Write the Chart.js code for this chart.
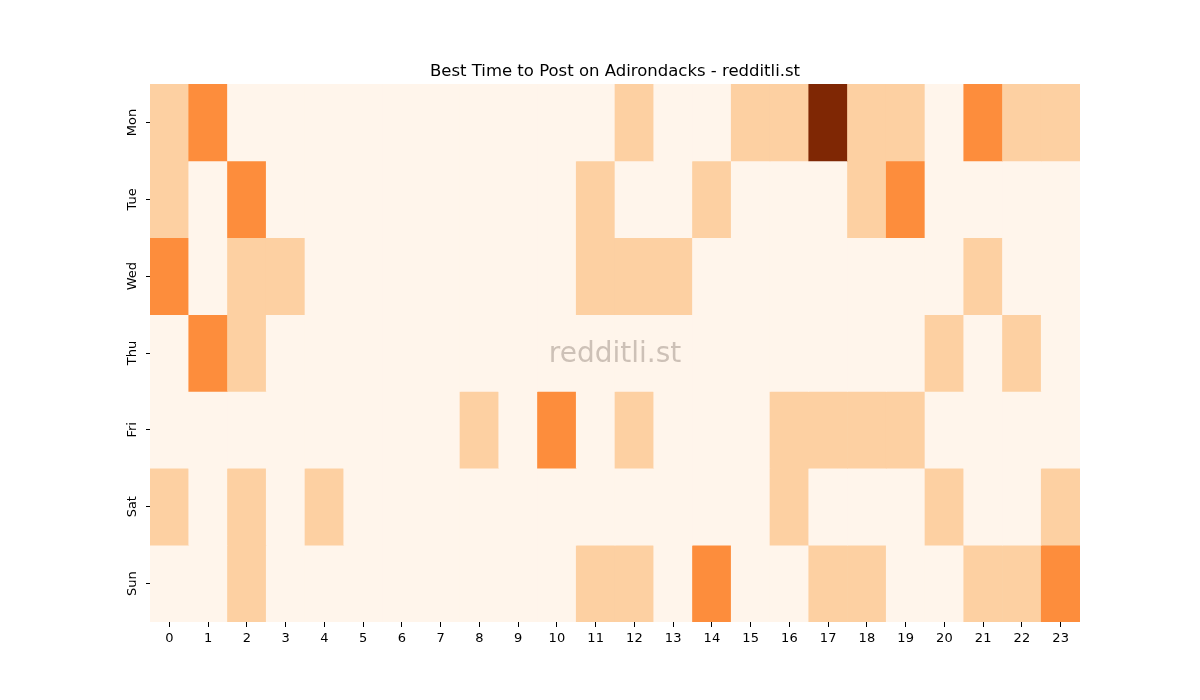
<!DOCTYPE html>
<html>
<head>
<meta charset="utf-8">
<script src="https://cdn.jsdelivr.net/npm/chart.js@4/dist/chart.umd.min.js"></script>
<style>
  body { margin: 0; background: #fff; }
</style>
</head>
<body>
<canvas id="heat" width="1200" height="700"></canvas>
<script>
// hours along x, weekdays down y
const hours = ["0","1","2","3","4","5","6","7","8","9","10","11","12","13","14","15","16","17","18","19","20","21","22","23"];
const days = ["Mon", "Tue", "Wed", "Thu", "Fri", "Sat", "Sun"];

// post counts per hour for each day
const mon = [1,2,0,0,0,0,0,0,0,0,0,0,1,0,0,1,1,4,1,1,0,2,1,1];
const tue = [1,0,2,0,0,0,0,0,0,0,0,1,0,0,1,0,0,0,1,2,0,0,0,0];
const wed = [2,0,1,1,0,0,0,0,0,0,0,1,1,1,0,0,0,0,0,0,0,1,0,0];
const thu = [0,2,1,0,0,0,0,0,0,0,0,0,0,0,0,0,0,0,0,0,1,0,1,0];
const fri = [0,0,0,0,0,0,0,0,1,0,2,0,1,0,0,0,1,1,1,1,0,0,0,0];
const sat = [1,0,1,0,1,0,0,0,0,0,0,0,0,0,0,0,1,0,0,0,1,0,0,1];
const sun = [0,0,1,0,0,0,0,0,0,0,0,1,1,0,2,0,0,1,1,0,0,1,1,2];

const rows = [mon, tue, wed, thu, fri, sat, sun];

// matplotlib "Oranges" colormap stops
const oranges = ["#fff5eb","#fee6ce","#fdd0a2","#fdae6b","#fd8d3c","#f16913","#d94801","#a63603","#7f2704"];

function hexToRgb(h) {
  return [parseInt(h.slice(1,3),16), parseInt(h.slice(3,5),16), parseInt(h.slice(5,7),16)];
}

function cmap(t) {
  t = Math.max(0, Math.min(1, t));
  const pos = t * (oranges.length - 1);
  const i = Math.min(Math.floor(pos), oranges.length - 2);
  const f = pos - i;
  const a = hexToRgb(oranges[i]), b = hexToRgb(oranges[i + 1]);
  const c = a.map((v, k) => Math.round(v + (b[k] - v) * f));
  return "rgb(" + c.join(",") + ")";
}

const maxVal = Math.max(...rows.flat());

// each day is one stacked dataset of unit-height bars, coloured by count
const datasets = rows.map((r, i) => ({
  label: days[i],
  data: r.map(() => 1),
  backgroundColor: r.map(v => cmap(v / maxVal)),
  borderWidth: 0,
  barPercentage: 1,
  categoryPercentage: 1,
  stack: "grid"
}));

const tickFont = { family: "DejaVu Sans", size: 13 };

// title, rotated day labels and watermark
const extras = {
  id: "extras",
  afterDraw(chart) {
    const ctx = chart.ctx;
    const area = chart.chartArea;
    const y = chart.scales.y;
    const cx = (area.left + area.right) / 2;

    ctx.save();
    ctx.fillStyle = "#000";
    ctx.font = "16.5px 'DejaVu Sans'";
    ctx.textAlign = "center";
    ctx.textBaseline = "alphabetic";
    ctx.fillText("Best Time to Post on Adirondacks - redditli.st", cx, 76);

    ctx.font = "13px 'DejaVu Sans'";
    ctx.textBaseline = "middle";
    days.forEach((d, i) => {
      const py = y.getPixelForValue(i + 0.5);
      ctx.save();
      ctx.translate(area.left - 17, py);
      ctx.rotate(-Math.PI / 2);
      ctx.fillText(d, 0, 0);
      ctx.restore();
    });

    ctx.font = "28px 'DejaVu Sans'";
    ctx.fillStyle = "rgba(130,115,105,0.4)";
    ctx.fillText("redditli.st", cx, (area.top + area.bottom) / 2 + 2);
    ctx.restore();
  }
};

new Chart(document.getElementById("heat"), {
  type: "bar",
  data: { labels: hours, datasets: datasets },
  plugins: [extras],
  options: {
    responsive: false,
    animation: false,
    layout: { padding: { top: 84, right: 120, left: 0, bottom: 0 } },
    plugins: {
      legend: { display: false },
      tooltip: { enabled: false },
      title: { display: false }
    },
    scales: {
      x: {
        stacked: true,
        border: { display: false },
        grid: { display: true, offset: false, drawOnChartArea: false, drawTicks: true, tickLength: 5, tickColor: "#000" },
        ticks: { color: "#000", font: tickFont, maxRotation: 0, autoSkip: false, padding: 4 },
        afterFit(scale) { scale.height = 78; }
      },
      y: {
        stacked: true,
        reverse: true,
        min: 0,
        max: 7,
        border: { display: false },
        afterBuildTicks(scale) {
          scale.ticks = days.map((d, i) => ({ value: i + 0.5 }));
        },
        grid: { display: true, drawOnChartArea: false, drawTicks: true, tickLength: 4, tickColor: "#000" },
        ticks: { callback: () => "", font: tickFont },
        afterFit(scale) { scale.width = 150; }
      }
    }
  }
});
</script>
</body>
</html>
